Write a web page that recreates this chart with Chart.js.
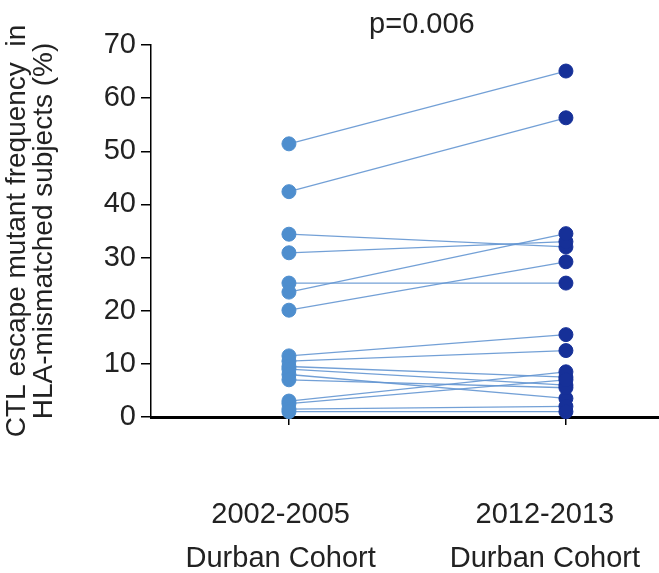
<!DOCTYPE html>
<html>
<head>
<meta charset="utf-8">
<script src="https://cdn.jsdelivr.net/npm/chart.js@4"></script>
<style>
  html, body { margin: 0; padding: 0; background: #fff; }
  #wrap { width: 659px; height: 573px; }
</style>
</head>
<body>
<div id="wrap"><canvas id="chart" width="659" height="573"></canvas></div>
<script>
// paired values per subject (%)
const cohortLabels = [['2002-2005', 'Durban Cohort'], ['2012-2013', 'Durban Cohort']];
const before = [51.4, 42.4, 34.4, 30.9, 25.2, 23.5, 20.1, 11.5, 10.5, 9.5, 9, 8, 7, 3, 2.5, 1.5, 1];
const after  = [65.1, 56.3, 32, 33, 25.2, 34.5, 29.2, 15.5, 12.5, 7.5, 6, 3.5, 5.5, 8.5, 7, 2, 1];
const yTicks = [0, 10, 20, 30, 40, 50, 60, 70];
const pText = 'p=0.006';

const lightBlue = 'rgb(78, 142, 206)';
const darkBlue = 'rgb(22, 48, 152)';
const lineBlue = 'rgba(100, 150, 210, 0.9)';
const textColor = '#222';
const fontFamily = '"Liberation Sans", Arial, sans-serif';

const datasets = [];

// connecting lines, one per subject
before.forEach((v, i) => {
  datasets.push({
    data: [{ x: 0, y: v }, { x: 1, y: after[i] }],
    borderColor: lineBlue,
    borderWidth: 1.3,
    pointRadius: 0,
    showLine: true,
    clip: false,
    order: 2
  });
});

datasets.push({
  data: before.map(v => ({ x: 0, y: v })),
  backgroundColor: lightBlue,
  borderColor: lightBlue,
  pointRadius: 7,
  clip: false,
  order: 1
});

datasets.push({
  data: after.map(v => ({ x: 1, y: v })),
  backgroundColor: darkBlue,
  borderColor: darkBlue,
  pointRadius: 7,
  clip: false,
  order: 0
});

const pLabel = {
  id: 'pLabel',
  afterDraw(chart) {
    const c = chart.ctx;
    const x = chart.scales.x.getPixelForValue(0.48);
    c.save();
    c.font = '29px ' + fontFamily;
    c.fillStyle = textColor;
    c.textAlign = 'center';
    c.textBaseline = 'middle';
    c.fillText(pText, x, 25);
    c.restore();
  }
};

function noSidePadding(scale) {
  scale.paddingLeft = 0;
  scale.paddingRight = 0;
}

new Chart(document.getElementById('chart'), {
  type: 'scatter',
  data: { datasets },
  plugins: [pLabel],
  options: {
    responsive: false,
    animation: false,
    layout: { autoPadding: false, padding: { top: 45, right: 0, bottom: 0, left: 0 } },
    plugins: {
      legend: { display: false },
      tooltip: { enabled: false }
    },
    scales: {
      x: {
        type: 'linear',
        position: 'bottom',
        min: -0.498,
        max: 1.336,
        afterBuildTicks: scale => { scale.ticks = [{ value: 0 }, { value: 1 }]; },
        afterFit: scale => { scale.height = 8; noSidePadding(scale); },
        ticks: { display: false },
        grid: { drawOnChartArea: false, drawTicks: true, tickLength: 8, color: '#000', lineWidth: 1.5 },
        border: { color: '#000', width: 3 }
      },
      xl: {
        type: 'linear',
        position: 'bottom',
        min: -0.498,
        max: 1.336,
        afterBuildTicks: scale => { scale.ticks = [{ value: -0.03 }, { value: 0.924 }]; },
        afterFit: scale => { scale.height = 148; noSidePadding(scale); },
        ticks: {
          padding: 68,
          maxRotation: 0,
          color: textColor,
          font: { family: fontFamily, size: 29, lineHeight: 1.52 },
          callback: (v, i) => cohortLabels[i]
        },
        grid: { display: false, drawTicks: false },
        border: { display: false }
      },
      y: {
        min: 0,
        max: 70,
        afterBuildTicks: scale => { scale.ticks = yTicks.map(v => ({ value: v })); },
        afterFit: scale => { scale.width = 151; },
        ticks: {
          padding: 5,
          color: textColor,
          font: { family: fontFamily, size: 29 }
        },
        grid: { drawOnChartArea: false, tickLength: 10, color: '#000', lineWidth: 1.5 },
        border: { color: '#000', width: 1.5 },
        title: {
          display: true,
          text: ['CTL escape mutant frequency  in', 'HLA-mismatched subjects (%)'],
          color: textColor,
          font: { family: fontFamily, size: 28, lineHeight: 0.97 },
          padding: { top: 4, bottom: 0 }
        }
      }
    }
  }
});
</script>
</body>
</html>
